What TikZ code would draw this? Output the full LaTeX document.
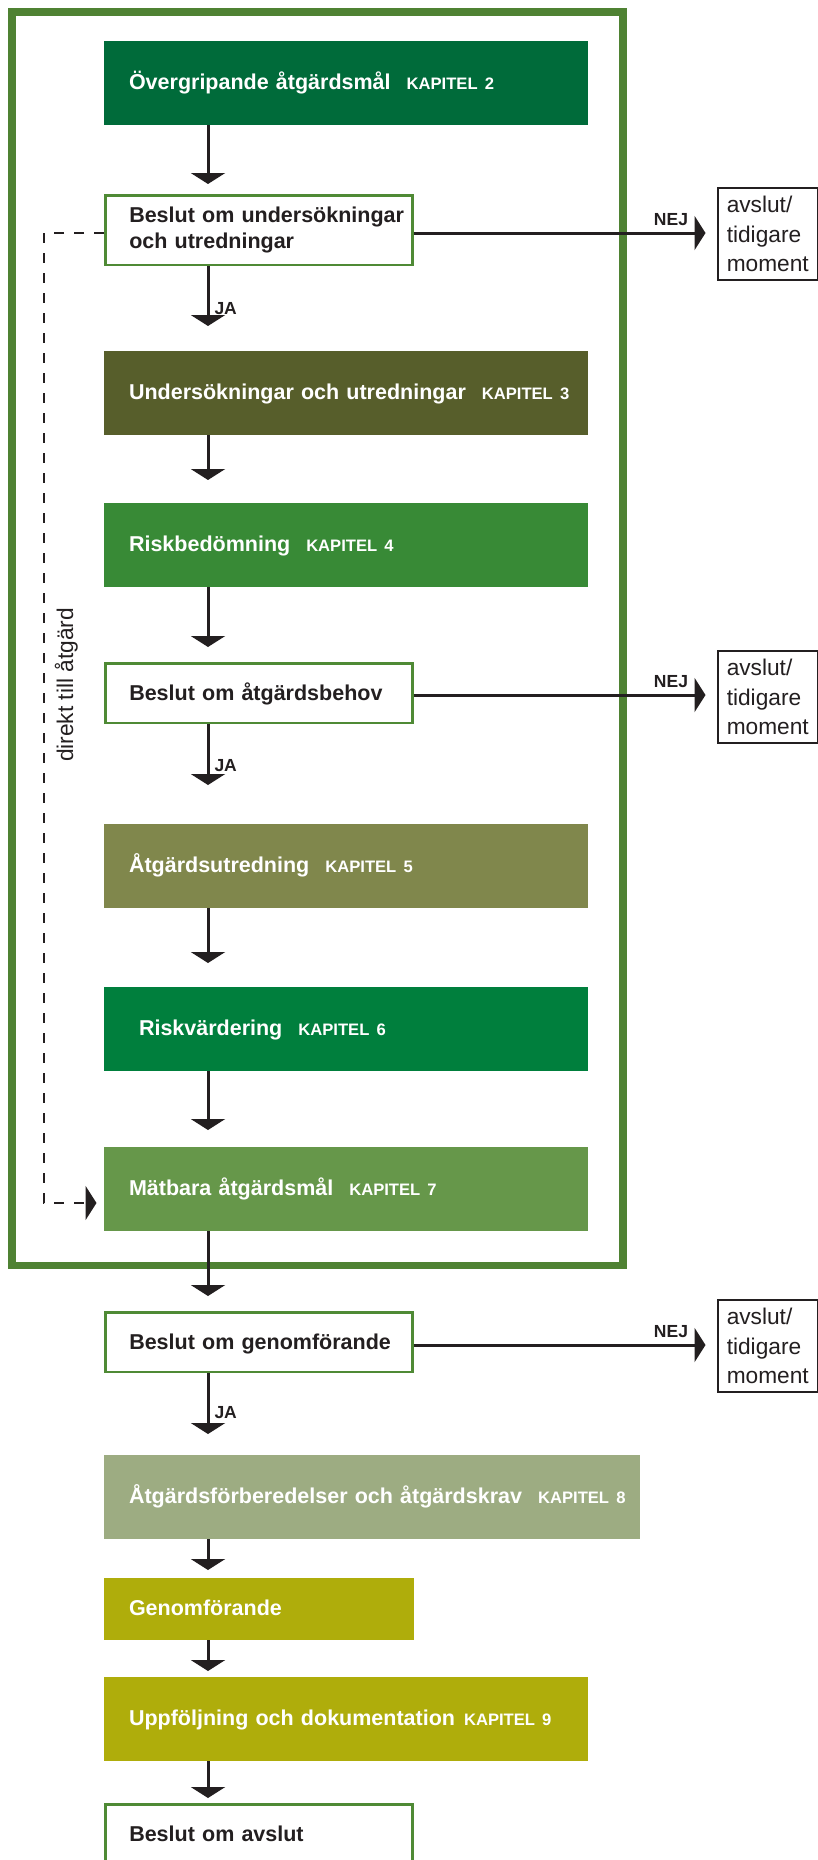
\documentclass[tikz,border=0pt]{standalone}
\usepackage{fontspec}
\setmainfont{Liberation Sans}
\usetikzlibrary{positioning,arrows.meta}

\definecolor{ram}{HTML}{4F8233}
\definecolor{beslutram}{HTML}{4F8A35}
\definecolor{kap2}{HTML}{006B3A}
\definecolor{kap3}{HTML}{575E2B}
\definecolor{kap4}{HTML}{388A36}
\definecolor{kap5}{HTML}{80874C}
\definecolor{kap6}{HTML}{007F3D}
\definecolor{kap7}{HTML}{66974A}
\definecolor{kap8}{HTML}{9DAC82}
\definecolor{kap9}{HTML}{AFAD0B}
\definecolor{ink}{HTML}{231F20}

\newcommand{\ind}[1][25pt]{\hspace*{#1}}
\newcommand{\kap}[2][16pt]{\hspace{#1}{\fontsize{16.6}{20}\selectfont #2}}

\begin{document}
\begin{tikzpicture}[x=1pt,y=-1pt,>={Triangle[width=34pt,length=11pt]},line width=2.5pt,
  chapter/.style={fill=#1,text=white,font=\fontsize{21.5}{26.7}\selectfont\bfseries,align=left,
    text width=484pt,minimum height=84pt,inner sep=0pt,outer sep=0pt,text height=15.5pt,text depth=3pt},
  decision/.style={draw=beslutram,fill=white,text=ink,font=\fontsize{21.5}{26.7}\selectfont\bfseries,
    align=left,text width=307pt,minimum height=59.5pt,inner sep=0pt},
  oneline/.style={text height=15.5pt,text depth=0pt},
  exit/.style={draw=ink,fill=white,text=ink,font=\fontsize{22.7}{29.5}\selectfont,align=left,
    minimum height=92pt,inner xsep=9pt,inner ysep=0pt},
  flow/.style={->,draw=ink,line width=3pt},
  lbl/.style={text=ink,font=\fontsize{17.5}{20}\selectfont\bfseries,inner sep=0pt}]
  \useasboundingbox (0,0) rectangle (818,1860);
  \draw[ram,line width=7.5pt] (12,12) rectangle (623,1265.5);

  \node[chapter=kap2,anchor=north west] (mal) at (104,41) {\ind Övergripande åtgärdsmål\kap{KAPITEL 2}};
  \node[decision,minimum height=69.5pt,below=69pt of mal.south west,anchor=north west] (undbeslut) {\ind[24pt]Beslut om undersökningar\\\ind[24pt]och utredningar};
  \node[chapter=kap3,below=85pt of undbeslut.south west,anchor=north west] (utred) {\ind Undersökningar och utredningar\kap{KAPITEL 3}};
  \node[chapter=kap4,below=68pt of utred.south west,anchor=north west] (risk) {\ind Riskbedömning\kap{KAPITEL 4}};
  \node[decision,oneline,below=75pt of risk.south west,anchor=north west] (behov) {\ind[24pt]Beslut om åtgärdsbehov};
  \node[chapter=kap5,below=100pt of behov.south west,anchor=north west] (atgutred) {\ind Åtgärdsutredning\kap{KAPITEL 5}};
  \node[chapter=kap6,below=79pt of atgutred.south west,anchor=north west] (riskvard) {\ind[35pt]Riskvärdering\kap{KAPITEL 6}};
  \node[chapter=kap7,below=76pt of riskvard.south west,anchor=north west] (matbara) {\ind Mätbara åtgärdsmål\kap{KAPITEL 7}};
  \node[decision,oneline,below=80pt of matbara.south west,anchor=north west] (genombeslut) {\ind[24pt]Beslut om genomförande};
  \node[chapter=kap8,text width=536pt,below=82pt of genombeslut.south west,anchor=north west] (forbered) {\ind Åtgärdsförberedelser och åtgärdskrav\kap{KAPITEL 8}};
  \node[chapter=kap9,text width=310pt,minimum height=62pt,below=39pt of forbered.south west,anchor=north west] (genomf) {\ind Genomförande};
  \node[chapter=kap9,below=37pt of genomf.south west,anchor=north west] (uppf) {\ind Uppföljning och dokumentation\kap[9pt]{KAPITEL 9}};
  \node[decision,oneline,below=42pt of uppf.south west,anchor=north west] (avslutbeslut) {\ind[24pt]Beslut om avslut};

  \node[exit,right=303pt of undbeslut.east,yshift=-4pt] (nej1) {avslut/\\tidigare\\moment};
  \node[exit,right=303pt of behov.east,yshift=-4pt] (nej2) {avslut/\\tidigare\\moment};
  \node[exit,right=303pt of genombeslut.east,yshift=-4pt] (nej3) {avslut/\\tidigare\\moment};

  \coordinate (ax) at (208,0);
  \draw[flow,shorten >=10pt] (mal.south -| ax) -- (undbeslut.north -| ax);
  \draw[flow,shorten >=25pt] (undbeslut.south -| ax) -- (utred.north -| ax) node[lbl,pos=1,anchor=base west,xshift=5pt,yshift=37pt] {JA};
  \draw[flow,shorten >=23pt] (utred.south -| ax) -- (risk.north -| ax);
  \draw[flow,shorten >=15pt] (risk.south -| ax) -- (behov.north -| ax);
  \draw[flow,shorten >=39pt] (behov.south -| ax) -- (atgutred.north -| ax) node[lbl,pos=1,anchor=base west,xshift=5pt,yshift=53pt] {JA};
  \draw[flow,shorten >=24pt] (atgutred.south -| ax) -- (riskvard.north -| ax);
  \draw[flow,shorten >=17pt] (riskvard.south -| ax) -- (matbara.north -| ax);
  \draw[flow,shorten >=15pt] (matbara.south -| ax) -- (genombeslut.north -| ax);
  \draw[flow,shorten >=21pt] (genombeslut.south -| ax) -- (forbered.north -| ax) node[lbl,pos=1,anchor=base west,xshift=5pt,yshift=37pt] {JA};
  \draw[flow,shorten >=8pt] (forbered.south -| ax) -- (genomf.north -| ax);
  \draw[flow,shorten >=6pt] (genomf.south -| ax) -- (uppf.north -| ax);
  \draw[flow,shorten >=5pt] (uppf.south -| ax) -- (avslutbeslut.north -| ax);

  \draw[flow,shorten >=11pt] ([yshift=-3pt]undbeslut.east) -- ([yshift=-3pt]undbeslut.east -| nej1.west) node[lbl,pos=1,anchor=base east,xshift=-27pt,yshift=8pt] {NEJ};
  \draw[flow,shorten >=11pt] ([yshift=-2pt]behov.east) -- ([yshift=-2pt]behov.east -| nej2.west) node[lbl,pos=1,anchor=base east,xshift=-27pt,yshift=8pt] {NEJ};
  \draw[flow,shorten >=11pt] ([yshift=-3pt]genombeslut.east) -- ([yshift=-3pt]genombeslut.east -| nej3.west) node[lbl,pos=1,anchor=base east,xshift=-27pt,yshift=8pt] {NEJ};

  \coordinate (vanster) at (44,1203);
  \draw[flow,line width=2.5pt,dash pattern=on 10pt off 10pt,shorten >=7.5pt] ([yshift=-3pt]undbeslut.west) -| (vanster) -- (vanster -| matbara.west);
  \node[rotate=90,anchor=base,text=ink,font=\fontsize{22.7}{26}\selectfont] (direkt) at (73,685) {direkt till åtgärd};
\end{tikzpicture}
\end{document}
